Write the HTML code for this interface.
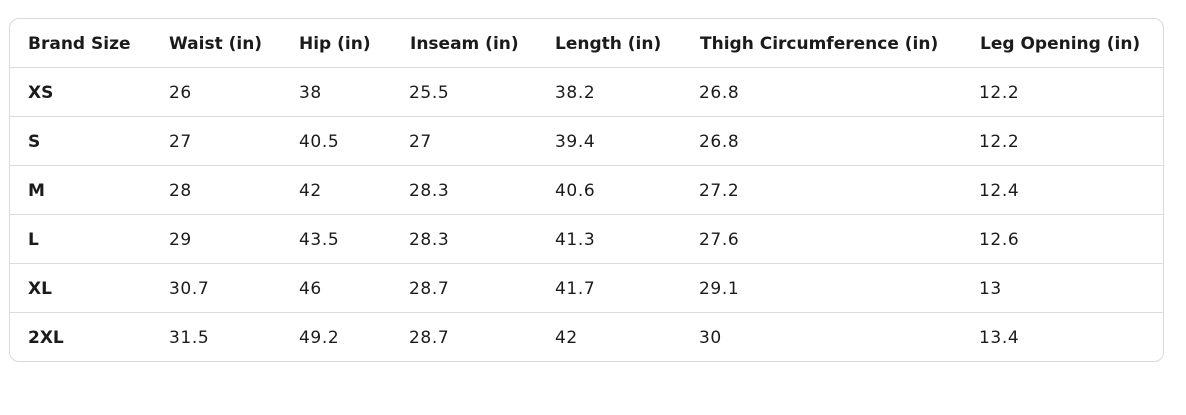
<!DOCTYPE html>
<html>
<head>
<meta charset="utf-8">
<style>
  html, body { margin:0; padding:0; background:#fff; }
  body { width:1186px; height:415px; position:relative; overflow:hidden;
         font-family:"DejaVu Sans","Liberation Sans",sans-serif; color:#1b1b1b; }
  .box { position:absolute; left:9px; top:18px; width:1153px; height:342px;
         border:1px solid #dadada; border-radius:10px; }
  .hl { position:absolute; left:10px; width:1153px; height:1px; background:#dcdcdc; }
  .t { position:absolute; height:49px; line-height:49px; padding-top:2px; font-size:17px; white-space:nowrap; letter-spacing:0.6px; }
  .b { font-weight:bold; letter-spacing:0; }
</style>
</head>
<body>
<div class="box"></div>
<div class="hl" style="top:67px"></div>
<div class="hl" style="top:116px"></div>
<div class="hl" style="top:165px"></div>
<div class="hl" style="top:214px"></div>
<div class="hl" style="top:263px"></div>
<div class="hl" style="top:312px"></div>

<!-- header -->
<div class="t b" style="top:18px;left:28px">Brand Size</div>
<div class="t b" style="top:18px;left:169px">Waist (in)</div>
<div class="t b" style="top:18px;left:299px">Hip (in)</div>
<div class="t b" style="top:18px;left:410px">Inseam (in)</div>
<div class="t b" style="top:18px;left:555px">Length (in)</div>
<div class="t b" style="top:18px;left:700px">Thigh Circumference (in)</div>
<div class="t b" style="top:18px;left:980px">Leg Opening (in)</div>

<!-- XS -->
<div class="t b" style="top:67px;left:28px">XS</div>
<div class="t" style="top:67px;left:169px">26</div>
<div class="t" style="top:67px;left:299px">38</div>
<div class="t" style="top:67px;left:409px">25.5</div>
<div class="t" style="top:67px;left:555px">38.2</div>
<div class="t" style="top:67px;left:699px">26.8</div>
<div class="t" style="top:67px;left:979px">12.2</div>

<!-- S -->
<div class="t b" style="top:116px;left:28px">S</div>
<div class="t" style="top:116px;left:169px">27</div>
<div class="t" style="top:116px;left:299px">40.5</div>
<div class="t" style="top:116px;left:409px">27</div>
<div class="t" style="top:116px;left:555px">39.4</div>
<div class="t" style="top:116px;left:699px">26.8</div>
<div class="t" style="top:116px;left:979px">12.2</div>

<!-- M -->
<div class="t b" style="top:165px;left:28px">M</div>
<div class="t" style="top:165px;left:169px">28</div>
<div class="t" style="top:165px;left:299px">42</div>
<div class="t" style="top:165px;left:409px">28.3</div>
<div class="t" style="top:165px;left:555px">40.6</div>
<div class="t" style="top:165px;left:699px">27.2</div>
<div class="t" style="top:165px;left:979px">12.4</div>

<!-- L -->
<div class="t b" style="top:214px;left:28px">L</div>
<div class="t" style="top:214px;left:169px">29</div>
<div class="t" style="top:214px;left:299px">43.5</div>
<div class="t" style="top:214px;left:409px">28.3</div>
<div class="t" style="top:214px;left:555px">41.3</div>
<div class="t" style="top:214px;left:699px">27.6</div>
<div class="t" style="top:214px;left:979px">12.6</div>

<!-- XL -->
<div class="t b" style="top:263px;left:28px">XL</div>
<div class="t" style="top:263px;left:169px">30.7</div>
<div class="t" style="top:263px;left:299px">46</div>
<div class="t" style="top:263px;left:409px">28.7</div>
<div class="t" style="top:263px;left:555px">41.7</div>
<div class="t" style="top:263px;left:699px">29.1</div>
<div class="t" style="top:263px;left:979px">13</div>

<!-- 2XL -->
<div class="t b" style="top:312px;left:28px">2XL</div>
<div class="t" style="top:312px;left:169px">31.5</div>
<div class="t" style="top:312px;left:299px">49.2</div>
<div class="t" style="top:312px;left:409px">28.7</div>
<div class="t" style="top:312px;left:555px">42</div>
<div class="t" style="top:312px;left:699px">30</div>
<div class="t" style="top:312px;left:979px">13.4</div>
</body>
</html>
